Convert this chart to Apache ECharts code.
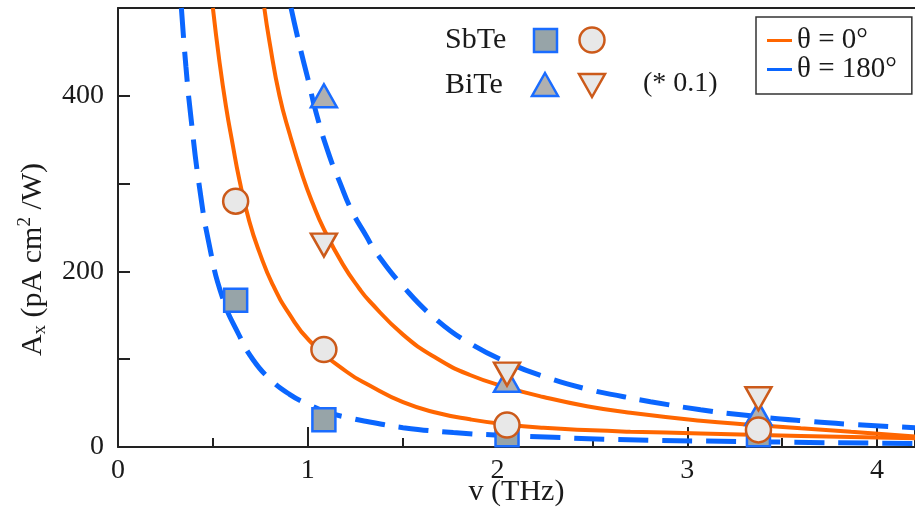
<!DOCTYPE html>
<html><head><meta charset="utf-8">
<script src="https://cdn.jsdelivr.net/npm/echarts@6/dist/echarts.min.js"></script>
<style>html,body{margin:0;padding:0;background:#fff}#c{width:915px;height:509px}</style>
</head><body><div id="c"></div>
<script>
const FONT = "'Liberation Serif', 'DejaVu Serif', serif";
const TXT = '#1a1a1a';
const ORANGE = '#ff6600', BLUE = '#0a66ff', MK_OR = '#cc5a1a', MK_BL = '#1a6cff';

// measured frequencies (THz)
const freqs = [0.62, 1.085, 2.05, 3.375];
// SbTe markers
const sbte180 = [167, 31, 14, 14];     // squares
const sbte0 = [280, 111, 25, 19.5];    // circles
// BiTe markers (* 0.1), at freqs[1..3]
const bite180 = [400, 76, 38];         // triangles up
const bite0 = [230, 83, 55];           // triangles down

// fitted curves: [x, y]
const fitSbTe180 = [[0.334,500],[0.358,433],[0.384,376],[0.428,298],[0.481,230],[0.551,170],[0.639,127],[0.71,100],[0.798,78],[0.904,60],[1.009,48],[1.097,40],[1.221,33],[1.326,28.5],[1.502,22],[1.767,16.5],[2.031,13.2],[2.295,11],[2.559,8.9],[3.334,6],[4.2,4]];
const fitSbTe0 = [[0.5,500],[0.534,440],[0.569,388],[0.604,345],[0.639,305],[0.692,257],[0.745,222],[0.815,185],[0.904,151],[1.009,121],[1.203,86],[1.326,70],[1.502,51],[1.679,39],[1.855,31.5],[2.049,25.5],[2.242,21.8],[2.5,19],[2.7,17.5],[3.07,15.4],[3.598,12.5],[4.2,10]];
const fitBiTe0 = [[0.771,500],[0.798,462],[0.851,400],[0.904,357],[0.974,308],[1.027,277],[1.083,249],[1.185,208],[1.273,180],[1.326,166],[1.502,128],[1.679,101],[1.855,82],[2.049,68],[2.242,57],[2.471,46.5],[2.7,39],[3.07,30],[3.334,25.3],[3.598,21.3],[3.863,17.5],[4.2,12]];
const fitBiTe180 = [[0.912,500],[0.956,458],[1.0,420],[1.045,380],[1.115,331],[1.168,302],[1.23,270],[1.309,240],[1.362,221],[1.502,183],[1.679,145],[1.855,118],[2.066,95],[2.242,80.5],[2.471,66],[2.665,57.3],[2.806,51.6],[3.07,42.5],[3.334,35.5],[3.598,30],[3.863,25.8],[4.2,22]];

const xTicks = [0, 1, 2, 3, 4];
const yTickLabels = [0, 200, 400];

const chart = echarts.init(document.getElementById('c'), null, {renderer: 'canvas'});

function fitLine(name, data, color, dashed) {
  return {
    type: 'line', name, data, showSymbol: false, symbol: 'none',
    smooth: 0.5, silent: true, z: 2,
    lineStyle: {color, width: dashed ? 5 : 4, type: dashed ? [30, 14] : 'solid', cap: 'butt'},
    itemStyle: {color}
  };
}
function markers(xs, ys, symbol, size, fill, stroke, rotate) {
  return {
    type: 'scatter', data: ys.map((v, i) => [xs[i], v]), symbol, symbolSize: size,
    symbolRotate: rotate || 0, silent: true, z: 3,
    itemStyle: {color: fill, borderColor: stroke, borderWidth: 2.5, opacity: 1}
  };
}

chart.setOption({
  animation: false,
  backgroundColor: '#fff',
  grid: {left: 118, right: 0, top: 8, bottom: 62, containLabel: false, outerBoundsMode: 'none'},
  xAxis: [{
    type: 'value', min: 0, max: 4.2, interval: 1,
    name: 'v (THz)', nameLocation: 'middle', nameGap: 30, nameMoveOverlap: false,
    nameTextStyle: {fontFamily: FONT, fontSize: 30, color: TXT},
    axisLine: {show: true, onZero: false, lineStyle: {color: '#222', width: 2}},
    axisTick: {show: true, inside: true, length: 20, lineStyle: {color: '#222', width: 2}},
    minorTick: {show: true, splitNumber: 2, length: 9, lineStyle: {color: '#222', width: 2}},
    splitLine: {show: false}, minorSplitLine: {show: false},
    axisLabel: {fontFamily: FONT, fontSize: 28, color: TXT, margin: 10,
      formatter: v => xTicks.includes(v) ? String(v) : ''}
  }, {
    type: 'value', position: 'top', min: 0, max: 4.2,
    axisLine: {show: true, onZero: false, lineStyle: {color: '#222', width: 2}},
    axisTick: {show: false}, axisLabel: {show: false}, splitLine: {show: false}
  }],
  yAxis: {
    type: 'value', min: 0, max: 500, interval: 100,
    name: '{a|A}{sub|x}{a| (pA cm}{sup|2}{a| /W)}',
    nameLocation: 'middle', nameGap: 68, nameMoveOverlap: false,
    nameTextStyle: {fontFamily: FONT, fontSize: 30, color: TXT, padding: [0, 64, 0, 0],
      rich: {
        a: {fontFamily: FONT, fontSize: 30, color: TXT, lineHeight: 34},
        sub: {fontFamily: FONT, fontSize: 19, color: TXT, verticalAlign: 'bottom', lineHeight: 20},
        sup: {fontFamily: FONT, fontSize: 19, color: TXT, verticalAlign: 'top', lineHeight: 20}
      }},
    axisLine: {show: true, onZero: false, lineStyle: {color: '#222', width: 2}},
    axisTick: {show: true, inside: true, length: 12, lineStyle: {color: '#222', width: 2}},
    splitLine: {show: false},
    axisLabel: {fontFamily: FONT, fontSize: 28, color: TXT, margin: 14,
      formatter: v => yTickLabels.includes(v) ? String(v) : ''}
  },
  legend: {
    data: ['θ = 0°', 'θ = 180°'], orient: 'vertical', left: 756, top: 17,
    padding: [9, 15, 10, 11], itemGap: 0, itemWidth: 25, itemHeight: 3,
    icon: 'rect',
    borderColor: '#333', borderWidth: 1.5, backgroundColor: '#fff',
    selectedMode: false,
    textStyle: {fontFamily: FONT, fontSize: 29, color: TXT, lineHeight: 25}
  },
  graphic: [
    {type: 'text', left: 445, top: 25, style: {text: 'SbTe', font: "30px 'Liberation Serif'", fill: TXT}},
    {type: 'text', left: 445, top: 70, style: {text: 'BiTe', font: "30px 'Liberation Serif'", fill: TXT}},
    {type: 'text', left: 643, top: 70, style: {text: '(* 0.1)', font: "28px 'Liberation Serif'", fill: TXT}},
    {type: 'rect', shape: {x: 534, y: 29, width: 23, height: 23}, style: {fill: '#97a4a8', stroke: MK_BL, lineWidth: 2.5}},
    {type: 'circle', shape: {cx: 592, cy: 40, r: 12.5}, style: {fill: '#e8e8e8', stroke: MK_OR, lineWidth: 2.5}},
    {type: 'polygon', shape: {points: [[545, 73], [558, 96], [532, 96]]}, style: {fill: '#b0b0b0', stroke: MK_BL, lineWidth: 2.5, lineJoin: 'miter'}},
    {type: 'polygon', shape: {points: [[579, 74], [605, 74], [592, 97]]}, style: {fill: '#e8e8e8', stroke: MK_OR, lineWidth: 2.5, lineJoin: 'miter'}}
  ],
  series: [
    fitLine('θ = 0°', fitSbTe0, ORANGE, false),
    fitLine('θ = 0°', fitBiTe0, ORANGE, false),
    fitLine('θ = 180°', fitSbTe180, BLUE, true),
    fitLine('θ = 180°', fitBiTe180, BLUE, true),
    markers(freqs, sbte180, 'rect', 23, '#97a4a8', MK_BL),
    markers(freqs.slice(1), bite180, 'triangle', [26, 23], '#b0b0b0', MK_BL),
    markers(freqs, sbte0, 'circle', 25, '#e8e8e8', MK_OR),
    markers(freqs.slice(1), bite0, 'triangle', [26, 23], '#e8e8e8', MK_OR, 180)
  ]
});
</script></body></html>
